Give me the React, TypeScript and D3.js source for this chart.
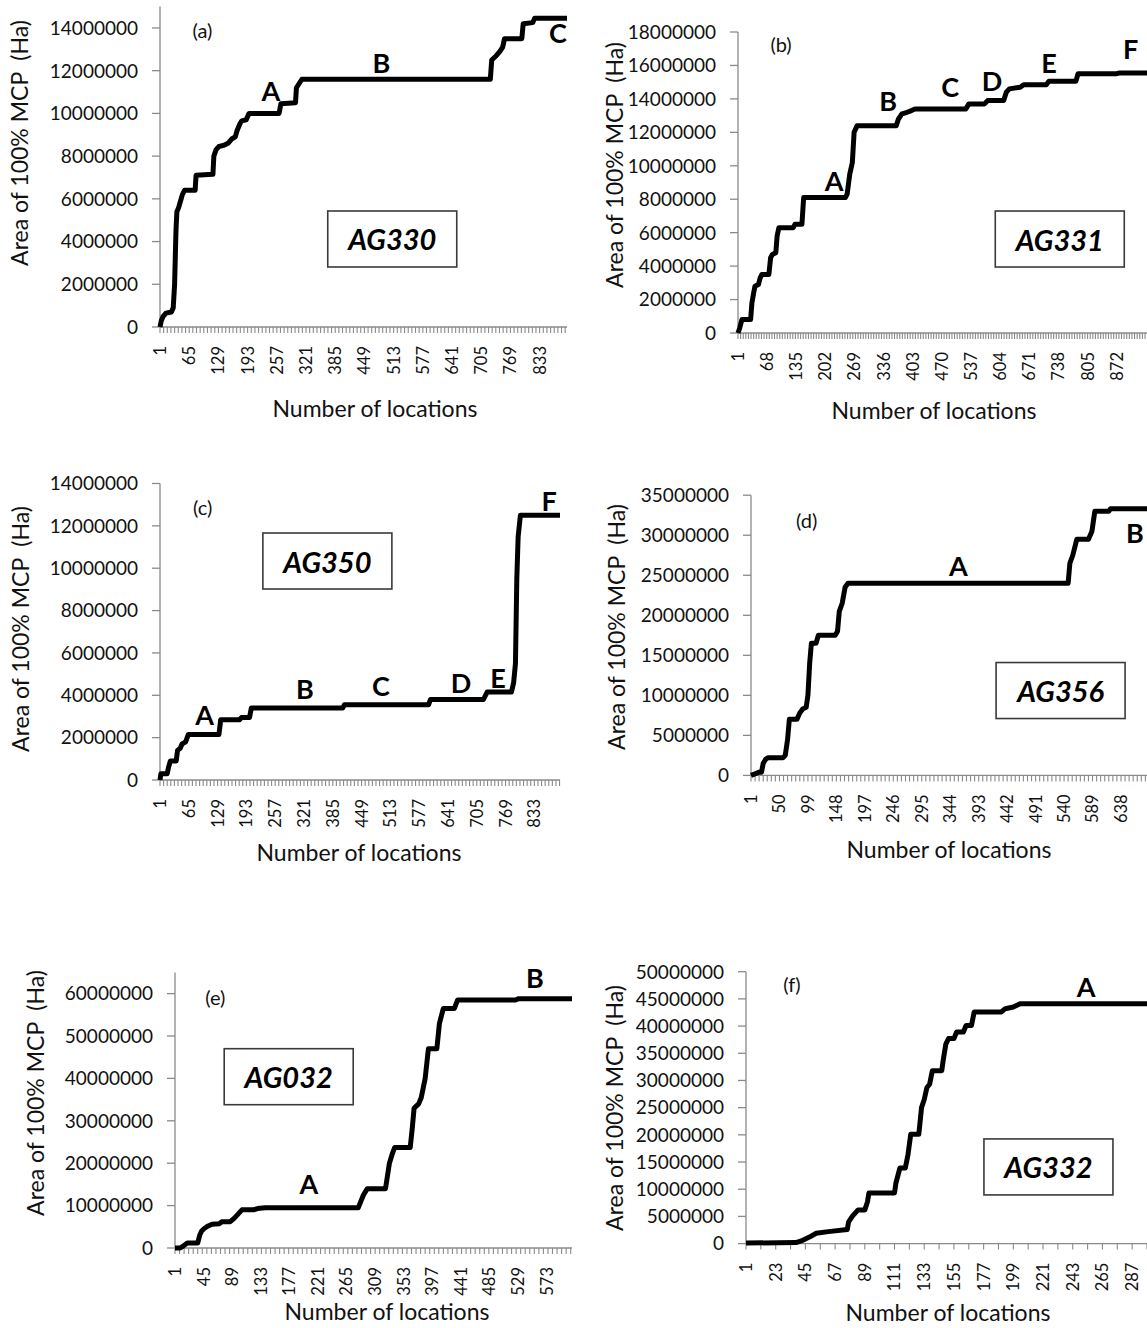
import React from "react";
import * as d3 from "d3";

const MIL = 1000000;

// ---- AG330 (a) ----
const ag330Locs = [1, 4, 8, 14, 26, 30, 33, 36, 38, 42, 46, 50, 55, 78, 80, 117, 119, 124, 130, 140, 150, 158, 166, 170, 176, 180, 190, 196, 262, 266, 298, 300, 306, 312, 725, 728, 738, 746, 752, 756, 794, 797, 818, 822, 893];
const ag330Area = [0, 0.3, 0.5, 0.65, 0.7, 0.9, 2.0, 4.5, 5.4, 5.6, 5.9, 6.2, 6.4, 6.4, 7.1, 7.15, 8.0, 8.3, 8.45, 8.5, 8.6, 8.8, 8.9, 9.2, 9.5, 9.65, 9.7, 10.0, 10.0, 10.45, 10.5, 11.2, 11.4, 11.6, 11.6, 12.5, 12.7, 12.9, 13.1, 13.5, 13.5, 14.2, 14.25, 14.45, 14.45];
const ag330XLabels = [1, 65, 129, 193, 257, 321, 385, 449, 513, 577, 641, 705, 769, 833];
const ag330YTicks = [0, 2000000, 4000000, 6000000, 8000000, 10000000, 12000000, 14000000];
const ag330Marks = ["A", "B", "C"];
const ag330MarkLoc = [244, 486, 873];
const ag330MarkArea = [11.07, 12.4, 13.8];

// ---- AG331 (b) ----
const ag331Locs = [1, 5, 10, 30, 33, 37, 40, 48, 52, 56, 72, 76, 80, 88, 91, 95, 128, 132, 148, 152, 248, 252, 258, 264, 268, 275, 365, 370, 378, 390, 400, 408, 525, 532, 568, 575, 612, 618, 625, 650, 658, 710, 716, 778, 783, 870, 878, 960];
const ag331Area = [0, 0.3, 0.8, 0.8, 1.8, 2.4, 2.8, 2.9, 3.3, 3.5, 3.5, 4.5, 4.7, 4.8, 5.8, 6.3, 6.3, 6.5, 6.5, 8.1, 8.1, 8.3, 9.5, 10.2, 12.0, 12.4, 12.4, 12.8, 13.1, 13.2, 13.3, 13.4, 13.4, 13.7, 13.7, 13.9, 13.9, 14.4, 14.6, 14.7, 14.85, 14.85, 15.05, 15.05, 15.5, 15.5, 15.55, 15.55];
const ag331XLabels = [1, 68, 135, 202, 269, 336, 403, 470, 537, 604, 671, 738, 805, 872];
const ag331YTicks = [0, 2000000, 4000000, 6000000, 8000000, 10000000, 12000000, 14000000, 16000000, 18000000];
const ag331Marks = ["A", "B", "C", "D", "E", "F"];
const ag331MarkLoc = [222, 346, 489, 585, 716, 904];
const ag331MarkArea = [9.1, 13.9, 14.75, 15.1, 16.2, 17.0];

// ---- AG350 (c) ----
const ag350Locs = [1, 3, 17, 20, 24, 37, 40, 46, 50, 58, 64, 132, 136, 178, 182, 200, 204, 407, 411, 598, 602, 720, 728, 782, 787, 791, 794, 797, 802, 890];
const ag350Area = [0, 0.3, 0.3, 0.6, 0.9, 0.9, 1.4, 1.5, 1.7, 1.8, 2.15, 2.15, 2.85, 2.85, 2.95, 2.95, 3.4, 3.4, 3.55, 3.55, 3.8, 3.8, 4.15, 4.15, 4.6, 5.5, 9.5, 11.5, 12.5, 12.5];
const ag350XLabels = [1, 65, 129, 193, 257, 321, 385, 449, 513, 577, 641, 705, 769, 833];
const ag350YTicks = [0, 2000000, 4000000, 6000000, 8000000, 10000000, 12000000, 14000000];
const ag350Marks = ["A", "B", "C", "D", "E", "F"];
const ag350MarkLoc = [100, 323, 492, 670, 752, 866];
const ag350MarkArea = [3.1, 4.3, 4.45, 4.62, 4.86, 13.2];

// ---- AG356 (d) ----
const ag356Locs = [1, 8, 15, 19, 22, 26, 30, 56, 60, 64, 67, 80, 85, 90, 96, 99, 102, 105, 113, 117, 146, 150, 153, 158, 163, 168, 547, 550, 555, 562, 582, 588, 593, 617, 620, 700];
const ag356Area = [0, 0.2, 0.4, 0.4, 1.5, 2.0, 2.2, 2.2, 2.5, 4.5, 7.0, 7.0, 7.8, 8.3, 8.5, 10.0, 14.0, 16.5, 16.5, 17.5, 17.5, 18.0, 20.5, 21.5, 23.5, 24.0, 24.0, 26.5, 27.5, 29.5, 29.5, 30.5, 33.0, 33.0, 33.3, 33.3];
const ag356XLabels = [1, 50, 99, 148, 197, 246, 295, 344, 393, 442, 491, 540, 589, 638];
const ag356YTicks = [0, 5000000, 10000000, 15000000, 20000000, 25000000, 30000000, 35000000];
const ag356Marks = ["A", "B"];
const ag356MarkLoc = [358, 662];
const ag356MarkArea = [26.2, 30.3];

// ---- AG032 (e) ----
const ag032Locs = [1, 9, 14, 20, 36, 39, 42, 46, 52, 58, 69, 73, 86, 92, 98, 104, 122, 128, 140, 283, 287, 291, 297, 325, 328, 331, 335, 339, 363, 366, 369, 376, 380, 386, 391, 404, 408, 414, 431, 436, 525, 530, 612];
const ag032Area = [0, 0, 0.5, 1.2, 1.2, 3.0, 4.0, 4.6, 5.2, 5.6, 5.7, 6.2, 6.2, 7.0, 8.0, 9.0, 9.0, 9.3, 9.5, 9.5, 11.0, 12.5, 14.0, 14.0, 17.0, 20.0, 22.0, 23.7, 23.7, 28.0, 33.0, 34.0, 35.5, 40.0, 47.0, 47.0, 53.0, 56.5, 56.5, 58.5, 58.5, 58.8, 58.8];
const ag032XLabels = [1, 45, 89, 133, 177, 221, 265, 309, 353, 397, 441, 485, 529, 573];
const ag032YTicks = [0, 10000000, 20000000, 30000000, 40000000, 50000000, 60000000];
const ag032Marks = ["A", "B"];
const ag032MarkLoc = [207, 555];
const ag032MarkArea = [15.2, 63.8];

// ---- AG332 (f) ----
const ag332Locs = [1, 38, 43, 48, 53, 62, 76, 77, 80, 84, 89, 91, 92, 111, 112, 115, 119, 121, 123, 129, 131, 133, 135, 137, 139, 146, 147, 149, 151, 155, 157, 162, 164, 168, 170, 190, 193, 199, 204, 300];
const ag332Area = [0.1, 0.2, 0.6, 1.2, 1.9, 2.2, 2.6, 4.0, 5.1, 6.2, 6.2, 7.7, 9.3, 9.3, 11.1, 13.9, 13.9, 16.4, 20.1, 20.1, 25.0, 26.5, 28.7, 29.3, 31.8, 31.8, 33.6, 36.7, 37.7, 37.7, 38.9, 38.9, 40.1, 40.1, 42.6, 42.6, 43.2, 43.5, 44.1, 44.1];
const ag332XLabels = [1, 23, 45, 67, 89, 111, 133, 155, 177, 199, 221, 243, 265, 287];
const ag332YTicks = [0, 5000000, 10000000, 15000000, 20000000, 25000000, 30000000, 35000000, 40000000, 45000000, 50000000];
const ag332Marks = ["A"];
const ag332MarkLoc = [253];
const ag332MarkArea = [47.2];

const Y_TITLE = "Area of 100% MCP  (Ha)";
const X_TITLE = "Number of locations";
const FONT = "Lato, 'Open Sans', sans-serif";
const AXIS = "#8a8a8a";

type PanelSpec = {
  tag: string;
  name: string;
  locs: number[];
  area: number[];
  nLoc: number;
  xLabels: number[];
  tickEvery: number;
  yTicks: number[];
  yMax: number;
  marks: string[];
  markLoc: number[];
  markArea: number[];
  tagAt: [number, number];
  boxAt: [number, number];
  // layout (pixels)
  x0: number;
  x1: number;
  yBase: number;
  yTop: number;
  yTitle: [number, number];
  xTitle: [number, number];
};

const panels: PanelSpec[] = [
  {
    tag: "(a)", name: "AG330", locs: ag330Locs, area: ag330Area, nLoc: 893,
    xLabels: ag330XLabels, tickEvery: 8, yTicks: ag330YTicks, yMax: 15 * MIL,
    marks: ag330Marks, markLoc: ag330MarkLoc, markArea: ag330MarkArea,
    tagAt: [94, 13.9], boxAt: [510, 4.12],
    x0: 160, x1: 567, yBase: 327, yTop: 6.6, yTitle: [19, 143], xTitle: [375, 408],
  },
  {
    tag: "(b)", name: "AG331", locs: ag331Locs, area: ag331Area, nLoc: 960,
    xLabels: ag331XLabels, tickEvery: 6, yTicks: ag331YTicks, yMax: 18 * MIL,
    marks: ag331Marks, markLoc: ag331MarkLoc, markArea: ag331MarkArea,
    tagAt: [100, 17.3], boxAt: [741, 5.62],
    x0: 738, x1: 1155, yBase: 333, yTop: 32, yTitle: [614, 165], xTitle: [934, 410],
  },
  {
    tag: "(c)", name: "AG350", locs: ag350Locs, area: ag350Area, nLoc: 890,
    xLabels: ag350XLabels, tickEvery: 8, yTicks: ag350YTicks, yMax: 14 * MIL,
    marks: ag350Marks, markLoc: ag350MarkLoc, markArea: ag350MarkArea,
    tagAt: [96, 12.9], boxAt: [373, 10.34],
    x0: 160, x1: 560, yBase: 780, yTop: 483.5, yTitle: [20, 629], xTitle: [359, 852],
  },
  {
    tag: "(d)", name: "AG356", locs: ag356Locs, area: ag356Area, nLoc: 700,
    xLabels: ag356XLabels, tickEvery: 7, yTicks: ag356YTicks, yMax: 35 * MIL,
    marks: ag356Marks, markLoc: ag356MarkLoc, markArea: ag356MarkArea,
    tagAt: [97, 31.9], boxAt: [534, 10.6],
    x0: 751, x1: 1157, yBase: 775.4, yTop: 495.2, yTitle: [616, 627], xTitle: [949, 849],
  },
  {
    tag: "(e)", name: "AG032", locs: ag032Locs, area: ag032Area, nLoc: 612,
    xLabels: ag032XLabels, tickEvery: 7, yTicks: ag032YTicks, yMax: 65 * MIL,
    marks: ag032Marks, markLoc: ag032MarkLoc, markArea: ag032MarkArea,
    tagAt: [63, 59.2], boxAt: [176, 40.4],
    x0: 175, x1: 572, yBase: 1248, yTop: 972.4, yTitle: [35, 1093], xTitle: [387, 1311],
  },
  {
    tag: "(f)", name: "AG332", locs: ag332Locs, area: ag332Area, nLoc: 300,
    xLabels: ag332XLabels, tickEvery: 11, yTicks: ag332YTicks, yMax: 50 * MIL,
    marks: ag332Marks, markLoc: ag332MarkLoc, markArea: ag332MarkArea,
    tagAt: [35, 47.8], boxAt: [225, 14.1],
    x0: 746, x1: 1149.7, yBase: 1243.6, yTop: 971.7, yTitle: [614, 1108], xTitle: [948, 1312],
  },
];

function Panel({ p }: { p: PanelSpec }) {
  const x = d3.scaleLinear().domain([1, p.nLoc]).range([p.x0, p.x1]);
  const y = d3.scaleLinear().domain([0, p.yMax]).range([p.yBase, p.yTop]);
  const pts: [number, number][] = p.locs.map((l, i) => [l, p.area[i] * MIL]);
  const path = d3
    .line<[number, number]>()
    .x((d) => x(d[0]))
    .y((d) => y(d[1]))(pts);
  const tickLocs = d3.range(1, p.nLoc + 1, p.tickEvery);
  const bx = x(p.boxAt[0]);
  const by = y(p.boxAt[1] * MIL);
  return (
    <g>
      {/* value axis */}
      <line x1={p.x0} x2={p.x0} y1={p.yBase} y2={p.yTop} stroke={AXIS} strokeWidth={1.3} />
      {p.yTicks.map((v) => (
        <g key={"y" + v}>
          <line x1={p.x0 - 8} x2={p.x0} y1={y(v)} y2={y(v)} stroke={AXIS} strokeWidth={1.3} />
          <text x={p.x0 - 22} y={y(v)} dy="0.36em" textAnchor="end" fontSize={19} fill="#111">
            {String(v)}
          </text>
        </g>
      ))}
      {/* category axis */}
      <line x1={p.x0} x2={p.x1} y1={p.yBase} y2={p.yBase} stroke={AXIS} strokeWidth={1.3} />
      {tickLocs.map((l) => (
        <line key={"t" + l} x1={x(l)} x2={x(l)} y1={p.yBase} y2={p.yBase + 6} stroke={AXIS} strokeWidth={1.1} />
      ))}
      {p.xLabels.map((l) => (
        <text
          key={"x" + l}
          transform={`translate(${x(l)},${p.yBase + 19}) rotate(-90)`}
          dy="0.36em"
          textAnchor="end"
          fontSize={16.5}
          fill="#111"
        >
          {String(l)}
        </text>
      ))}
      {/* titles */}
      <text
        transform={`translate(${p.yTitle[0]},${p.yTitle[1]}) rotate(-90)`}
        textAnchor="middle"
        dominantBaseline="central"
        fontSize={23}
        fill="#111"
        style={{ whiteSpace: "pre" }}
      >
        {Y_TITLE}
      </text>
      <text x={p.xTitle[0]} y={p.xTitle[1]} textAnchor="middle" dominantBaseline="central" fontSize={23} fill="#111">
        {X_TITLE}
      </text>
      {/* cumulative area curve */}
      <path d={path ?? ""} fill="none" stroke="#000" strokeWidth={5} strokeLinejoin="round" />
      {/* phase letters */}
      {p.marks.map((m, i) => (
        <text
          key={"m" + m}
          x={x(p.markLoc[i])}
          y={y(p.markArea[i] * MIL)}
          textAnchor="middle"
          dominantBaseline="central"
          fontSize={27}
          fontWeight={700}
          fill="#000"
        >
          {m}
        </text>
      ))}
      <text
        x={x(p.tagAt[0])}
        y={y(p.tagAt[1] * MIL)}
        textAnchor="middle"
        dominantBaseline="central"
        fontSize={20}
        fill="#111"
      >
        {p.tag}
      </text>
      {/* animal id box */}
      <rect x={bx - 64.5} y={by - 28} width={129} height={56} fill="#fff" stroke="#3a3a3a" strokeWidth={1.6} />
      <text
        x={bx}
        y={by}
        textAnchor="middle"
        dominantBaseline="central"
        fontSize={29}
        fontWeight={700}
        fontStyle="italic"
        fill="#000"
      >
        {p.name}
      </text>
    </g>
  );
}

export default function App() {
  return (
    <svg
      width={1147}
      height={1328}
      viewBox="0 0 1147 1328"
      style={{ position: "absolute", left: 0, top: 0, background: "#fff", fontFamily: FONT }}
    >
      <rect width={1147} height={1328} fill="#fff" />
      {panels.map((p) => (
        <Panel key={p.name} p={p} />
      ))}
    </svg>
  );
}
